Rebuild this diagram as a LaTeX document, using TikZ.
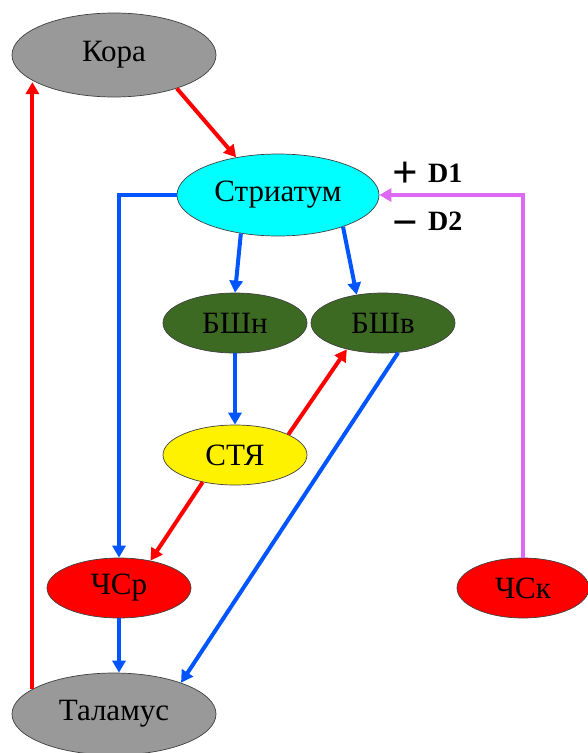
\documentclass[tikz,border=0pt]{standalone}
\usepackage{fontspec}
\setmainfont{Liberation Serif}
\usetikzlibrary{shapes.geometric,arrows.meta}
\definecolor{areagray}{RGB}{153,153,153}
\definecolor{striacyan}{RGB}{0,255,255}
\definecolor{bshgreen}{RGB}{61,106,35}
\definecolor{arrred}{RGB}{255,0,0}
\definecolor{arrblue}{RGB}{0,85,255}
\definecolor{arrviolet}{RGB}{222,104,245}
\begin{document}
\begin{tikzpicture}[x=1pt,y=-1pt,
    area/.style={ellipse,draw=black!75,line width=0.7pt,inner sep=0pt,
      font=\fontsize{31}{31}\selectfont},
    bigarea/.style={area,minimum width=204pt,minimum height=84pt},
    smallarea/.style={area,minimum width=144pt,minimum height=60pt},
    exc/.style={line width=4pt,arrred,-{Triangle[length=12pt,width=13pt]}},
    inh/.style={line width=4pt,arrblue,-{Triangle[length=12pt,width=13pt]}},
    dop/.style={line width=3.5pt,arrviolet,-{Triangle[length=12pt,width=13pt]}},
    sign/.style={font=\fontsize{45}{45}\selectfont,inner sep=0pt,anchor=base,
      text height=28pt,text depth=0pt},
    rec/.style={font=\bfseries\fontsize{28}{28}\selectfont,inner sep=0pt,anchor=west}]
  \useasboundingbox (0,0) rectangle (588,753);
  %% areas
  \node[bigarea,fill=areagray] (kora) at (114,55) {Кора};
  \node[bigarea,fill=striacyan,minimum width=202pt,minimum height=82pt] (striatum) at (278,195) {Стриатум};
  \node[smallarea,fill=bshgreen] (bshn) at (235,323) {БШн};
  \node[smallarea,fill=bshgreen] (bshv) at (383,323) {БШв};
  \node[smallarea,fill=yellow] (stya) at (235,455) {СТЯ};
  \node[smallarea,fill=red] (chsr) at (119,588) {ЧСр};
  \node[smallarea,fill=red,minimum width=132pt] (chsk) at (523,588) {ЧСк};
  \node[bigarea,fill=areagray,minimum height=82pt] (thal) at (114,714) {Таламус};
  %% receptors
  \node[sign] (plus) at (405,187) {\bfseries +};
  \node[rec] (d1) at (428,173) {D1};
  \node[sign] (minus) at (405,237) {\bfseries −};
  \node[rec] (d2) at (428,221) {D2};
  %% connections
  \draw[exc] (kora.-28) -- (striatum.138);
  \draw[exc] (thal.163) -- (thal.163 |- kora.199);
  \draw[inh] (striatum.west) -| (chsr.north);
  \draw[inh] (striatum.226) -- (bshn.north);
  \draw[inh] (striatum.334) -- (bshv.133);
  \draw[inh] (bshn.south) -- (stya.north);
  \draw[exc] (stya.21) -- (bshv.216);
  \draw[exc] (stya.220) -- (chsr.41);
  \draw[inh] (bshv.297) -- (thal.25);
  \draw[inh] (chsr.south) -- (chsr.south |- thal.north);
  \draw[dop] (chsk.north) |- (striatum.east);
\end{tikzpicture}
\end{document}
